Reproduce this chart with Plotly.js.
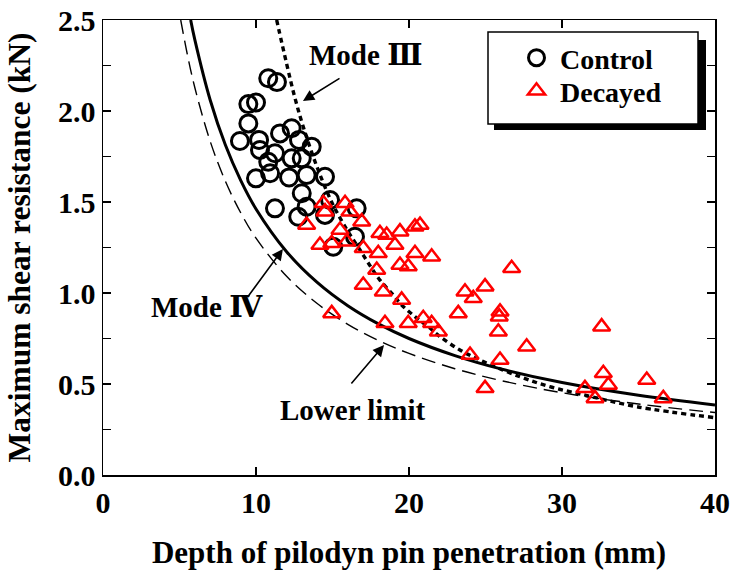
<!DOCTYPE html>
<html>
<head>
<meta charset="utf-8">
<script src="https://cdn.plot.ly/plotly-3.0.1.min.js"></script>
<style>html,body{margin:0;padding:0;background:#fff;}#chart{width:736px;height:570px;}</style>
</head>
<body>
<div id="chart"></div>
<script>
// Control specimens (circles)
const controlX = [10.80, 11.37, 9.50, 10.00, 9.50, 8.95, 10.20, 11.57, 12.33, 12.81, 13.64, 10.26, 11.24, 12.33, 12.99, 10.80, 10.00, 10.92, 12.16, 13.31, 14.51, 12.99, 11.24, 13.31, 12.76, 14.51, 14.84, 16.58, 16.47, 15.05];
const controlY = [2.180, 2.159, 2.038, 2.047, 1.932, 1.835, 1.841, 1.877, 1.905, 1.841, 1.804, 1.786, 1.768, 1.740, 1.740, 1.721, 1.630, 1.658, 1.635, 1.648, 1.639, 1.548, 1.465, 1.474, 1.419, 1.429, 1.511, 1.465, 1.309, 1.254];

// Decayed specimens (triangles)
const decayedX = [14.40, 15.82, 14.51, 16.14, 16.91, 13.31, 15.49, 18.10, 18.54, 19.41, 20.39, 20.72, 14.18, 14.95, 15.93, 17.01, 17.99, 19.08, 20.39, 21.48, 19.41, 19.95, 17.89, 17.01, 18.32, 19.52, 14.95, 18.43, 19.95, 20.93, 21.48, 21.92,
  26.71, 23.66, 24.20, 24.97, 23.22, 25.95, 25.90, 25.84, 27.69, 23.99, 25.95, 24.97, 32.59, 32.70, 33.03, 35.54, 31.50, 32.16, 36.62];
const decayedY = [1.493, 1.493, 1.447, 1.447, 1.392, 1.374, 1.346, 1.328, 1.319, 1.337, 1.364, 1.374, 1.264, 1.273, 1.282, 1.246, 1.218, 1.264, 1.218, 1.199, 1.154, 1.145, 1.126, 1.044, 1.007, 0.962, 0.888, 0.834, 0.834, 0.861, 0.834, 0.787,
  1.136, 1.007, 0.971, 1.035, 0.888, 0.897, 0.870, 0.787, 0.705, 0.659, 0.632, 0.476, 0.815, 0.559, 0.495, 0.522, 0.476, 0.421, 0.421];

// Mode IV curve (solid)
const modeIVX = [5.73, 6, 7, 8, 9, 10, 12, 14, 16, 18, 20, 23, 26, 30, 35, 40];
const modeIVY = [2.50, 2.392, 2.062, 1.813, 1.619, 1.462, 1.227, 1.058, 0.930, 0.830, 0.750, 0.656, 0.583, 0.508, 0.438, 0.385];

// Lower limit curve (dashed)
const lowerX = [5.08, 5.5, 6, 7, 8, 9, 10, 12, 14, 16, 18, 20, 23, 26, 30, 35, 40];
const lowerY = [2.50, 2.316, 2.129, 1.835, 1.614, 1.441, 1.301, 1.092, 0.942, 0.828, 0.739, 0.668, 0.584, 0.519, 0.452, 0.390, 0.343];

// Mode III curve (dotted)
const modeIIIX = [11.35, 12.0, 12.55, 13.1, 14, 15, 16, 16.8, 17.56, 18.1, 18.97, 19.52, 20.39, 21.26, 22.0, 23.33, 24.86, 27.25, 29.2, 31.2, 34.9, 40];
const modeIIIY = [2.50, 2.26, 2.07, 1.91, 1.69, 1.49, 1.34, 1.236, 1.136, 1.071, 0.989, 0.934, 0.870, 0.815, 0.762, 0.687, 0.623, 0.540, 0.485, 0.445, 0.375, 0.315];

const seriesNames = ['Control', 'Decayed'];
const xTitle = 'Depth of pilodyn pin penetration (mm)';
const yTitle = 'Maximum shear resistance (kN)';
const labelModeIII = 'Mode <span style="font-family:\'DejaVu Serif\'">Ⅲ</span>';
const labelModeIV = 'Mode <span style="font-family:\'DejaVu Serif\'">Ⅳ</span>';
const labelLower = 'Lower limit';

const FONT = '"Liberation Serif"';

const traces = [
  {x: lowerX, y: lowerY, mode: 'lines', line: {color: '#000', width: 1.4, dash: '14px,7px', shape: 'spline'}, showlegend: false, hoverinfo: 'skip'},
  {x: modeIVX, y: modeIVY, mode: 'lines', line: {color: '#000', width: 3, shape: 'spline'}, showlegend: false, hoverinfo: 'skip'},
  {x: modeIIIX, y: modeIIIY, mode: 'lines', line: {color: '#000', width: 3.4, dash: '5px,4px', shape: 'spline'}, showlegend: false, hoverinfo: 'skip'},
  {x: controlX, y: controlY, mode: 'markers', name: seriesNames[0], legend: 'legend',
   marker: {symbol: 'circle-open', size: 17, color: '#000', line: {color: '#000', width: 3}}},
  {x: decayedX, y: decayedY, mode: 'markers', name: seriesNames[1], legend: 'legend2',
   marker: {symbol: 'triangle-up-open', size: 15, color: '#ff0000', line: {color: '#ff0000', width: 2.5}}}
];

function px2x(px) { return (px - 103) / 612; }
function py2y(py) { return (475 - py) / 455; }

const annFont = {family: FONT, size: 29, color: '#000', weight: 'bold'};
const arrowBase = {text: ' ', font: {size: 1}, showarrow: true, arrowhead: 2, arrowsize: 1.4, arrowwidth: 1.6, arrowcolor: '#000', axref: 'x', ayref: 'y', xref: 'x', yref: 'y', standoff: 0, borderpad: 0};
const legFont = {family: FONT, size: 28, weight: 'bold', color: '#000'};

const layout = {
  width: 736, height: 570,
  margin: {l: 103, r: 21, t: 20, b: 95},
  paper_bgcolor: '#fff', plot_bgcolor: '#fff',
  font: {family: FONT, color: '#000', weight: 'bold'},
  showlegend: true,
  legend: {x: px2x(513), y: py2y(33), xanchor: 'left', yanchor: 'top', bgcolor: 'rgba(0,0,0,0)', borderwidth: 0, itemwidth: 37, font: legFont},
  legend2: {x: px2x(513), y: py2y(66), xanchor: 'left', yanchor: 'top', bgcolor: 'rgba(0,0,0,0)', borderwidth: 0, itemwidth: 37, font: legFont},
  xaxis: {range: [0, 40], dtick: 10, tick0: 0, ticks: 'inside', ticklen: 8, tickwidth: 1.5, tickcolor: '#000',
          showline: true, linewidth: 1.5, linecolor: '#000', mirror: 'ticks', showgrid: false, zeroline: false,
          tickfont: {family: FONT, size: 30, weight: 'bold'},
          title: {text: xTitle, font: {family: FONT, size: 31, weight: 'bold'}}},
  yaxis: {range: [0, 2.5], dtick: 0.5, tick0: 0, tickformat: '.1f', ticks: 'inside', ticklen: 8, tickwidth: 1.5, tickcolor: '#000',
          minor: {dtick: 0.25, ticks: 'inside', ticklen: 8, tickwidth: 1.5, tickcolor: '#000', showgrid: false},
          showline: true, linewidth: 1.5, linecolor: '#000', mirror: 'ticks', showgrid: false, zeroline: false,
          tickfont: {family: FONT, size: 30, weight: 'bold'},
          title: {text: yTitle, font: {family: FONT, size: 31.5, weight: 'bold'}}},
  shapes: [
    {type: 'rect', xref: 'paper', yref: 'paper', x0: px2x(494), x1: px2x(706), y0: py2y(130), y1: py2y(40), fillcolor: '#000', line: {width: 0}, layer: 'above'},
    {type: 'rect', xref: 'paper', yref: 'paper', x0: px2x(488), x1: px2x(698), y0: py2y(124), y1: py2y(32), fillcolor: '#fff', line: {color: '#000', width: 1.5}, layer: 'above'}
  ],
  annotations: [
    {text: labelModeIII, x: 17.15, y: 2.308, xref: 'x', yref: 'y', showarrow: false, font: annFont},
    {text: labelModeIV, x: 6.8, y: 0.923, xref: 'x', yref: 'y', showarrow: false, font: annFont},
    {text: labelLower, x: 16.34, y: 0.357, xref: 'x', yref: 'y', showarrow: false, font: annFont},
    Object.assign({}, arrowBase, {x: 13.07, y: 2.055, ax: 15.49, ay: 2.181}),
    Object.assign({}, arrowBase, {x: 11.76, y: 1.242, ax: 9.41, ay: 0.973}),
    Object.assign({}, arrowBase, {x: 18.37, y: 0.714, ax: 16.2, ay: 0.50})
  ]
};

Plotly.newPlot('chart', traces, layout, {displayModeBar: false, staticPlot: true});
</script>
</body>
</html>
